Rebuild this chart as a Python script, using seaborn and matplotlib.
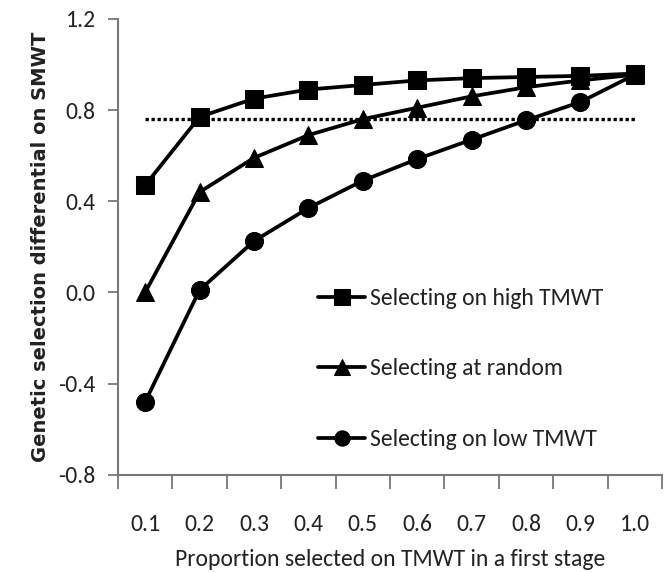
import numpy as np
import pandas as pd
import matplotlib
matplotlib.use("Agg")
import matplotlib.pyplot as plt
import seaborn as sns
from matplotlib.ticker import FixedLocator, NullFormatter, FixedFormatter

proportions = ["0.1", "0.2", "0.3", "0.4", "0.5", "0.6", "0.7", "0.8", "0.9", "1.0"]
high_tmwt = [0.47, 0.77, 0.85, 0.89, 0.91, 0.93, 0.94, 0.945, 0.95, 0.96]
random_sel = [0.00, 0.44, 0.59, 0.69, 0.76, 0.81, 0.86, 0.90, 0.93, 0.955]
low_tmwt = [-0.48, 0.01, 0.225, 0.37, 0.49, 0.585, 0.67, 0.755, 0.835, 0.955]
reference_level = 0.76
series_names = ["Selecting on high TMWT", "Selecting at random", "Selecting on low TMWT"]
y_ticks = [-0.8, -0.4, 0.0, 0.4, 0.8, 1.2]

sns.set_style("white")
narrow = ["Carlito", "DejaVu Sans"]
plt.rcParams["font.family"] = narrow
fs = 17

rows = []
for name, vals in zip(series_names, [high_tmwt, random_sel, low_tmwt]):
    for i, v in enumerate(vals):
        rows.append({"pos": i, "value": v, "series": name})
df = pd.DataFrame(rows)

fig = plt.figure(figsize=(6.7, 5.72), dpi=100)
ax = fig.add_axes([0.176, 0.170, 0.812, 0.797])

sns.lineplot(data=df, x="pos", y="value", style="series", hue="series",
             palette={n: "black" for n in series_names},
             markers={series_names[0]: "s", series_names[1]: "^", series_names[2]: "o"},
             dashes=False, markersize=13, linewidth=2.7, markeredgecolor="black",
             ax=ax, legend=True, sort=False)

ax.plot([0, len(proportions) - 1], [reference_level, reference_level],
        linestyle=(0, (1, 0.8)), color="black", linewidth=2.4, zorder=1)

ax.set_xlim(-0.5, len(proportions) - 0.5)
ax.set_ylim(-0.8, 1.2)

ax.xaxis.set_major_locator(FixedLocator(np.arange(-0.5, len(proportions), 1.0)))
ax.xaxis.set_major_formatter(NullFormatter())
ax.xaxis.set_minor_locator(FixedLocator(np.arange(len(proportions))))
ax.xaxis.set_minor_formatter(FixedFormatter(proportions))
ax.tick_params(axis="x", which="major", length=10, width=1.3, color="#777777", direction="out", bottom=True)
ax.tick_params(axis="x", which="minor", length=0, pad=28, labelsize=fs, bottom=True, labelcolor="#222222")

ax.set_yticks(y_ticks)
ax.set_yticklabels(["%.1f" % t for t in y_ticks], fontsize=fs)
ax.tick_params(axis="y", length=7, width=1.3, color="#777777", direction="out", left=True, pad=9,
               labelcolor="#222222")

for s in ["top", "right"]:
    ax.spines[s].set_visible(False)
for s in ["left", "bottom"]:
    ax.spines[s].set_color("#777777")
    ax.spines[s].set_linewidth(1.5)

ax.set_xlabel("Proportion selected on TMWT in a first stage", fontsize=fs, labelpad=10, color="#222222")
ax.set_ylabel("Genetic selection differential on SMWT", family=["DejaVu Sans"], fontsize=14,
              fontweight="bold", labelpad=6, color="#222222")

leg = ax.legend(loc="center left", bbox_to_anchor=(0.368, 0.232), frameon=False,
                labelspacing=2.1, handlelength=2.0, handletextpad=0.2, borderpad=0,
                borderaxespad=0, prop={"family": narrow, "size": fs})
for h in leg.legend_handles:
    h.set_markersize(11)
for t in leg.get_texts():
    t.set_color("#222222")

fig.savefig("out.png", dpi=100)
